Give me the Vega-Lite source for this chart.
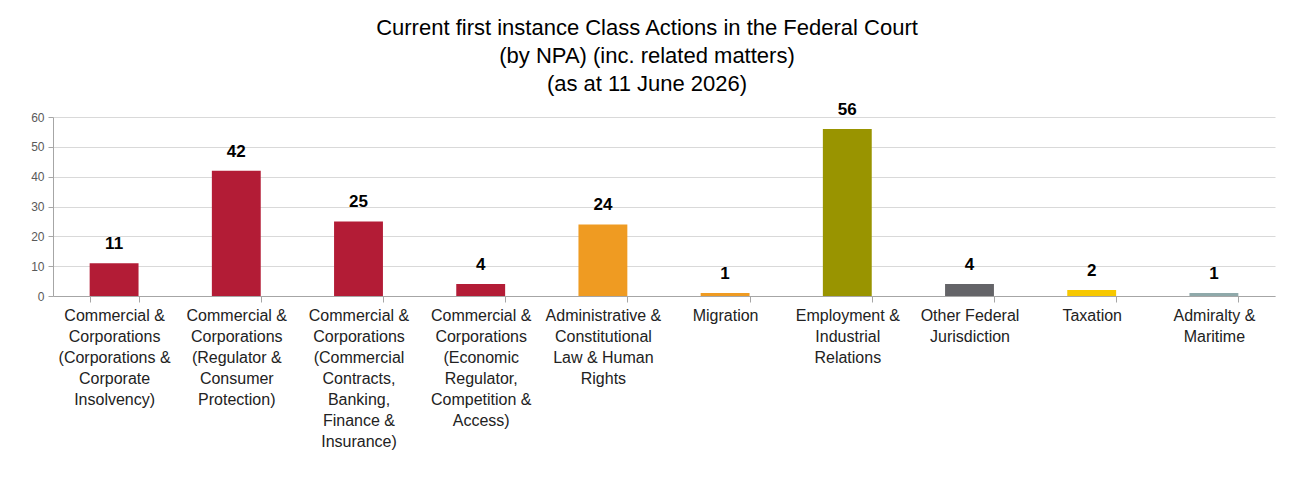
{
  "$schema": "https://vega.github.io/schema/vega-lite/v6.json",
  "width": 1222,
  "height": 179,
  "autosize": {"type": "none"},
  "padding": {"left": 53, "top": 117, "right": 17, "bottom": 183},
  "background": "white",
  "title": {
    "text": ["Current first instance Class Actions in the Federal Court", "(by NPA) (inc. related matters)", "(as at 11 June 2026)"],
    "font": "Liberation Sans",
    "fontSize": 22,
    "fontWeight": "normal",
    "color": "#000000",
    "lineHeight": 28,
    "anchor": "middle",
    "dx": -17,
    "offset": 5
  },
  "data": {
    "values": [
      {"npa": "Commercial &|Corporations|(Corporations &|Corporate|Insolvency)", "count": 11},
      {"npa": "Commercial &|Corporations|(Regulator &|Consumer|Protection)", "count": 42},
      {"npa": "Commercial &|Corporations|(Commercial|Contracts,|Banking,|Finance &|Insurance)", "count": 25},
      {"npa": "Commercial &|Corporations|(Economic|Regulator,|Competition &|Access)", "count": 4},
      {"npa": "Administrative &|Constitutional|Law & Human|Rights", "count": 24},
      {"npa": "Migration", "count": 1},
      {"npa": "Employment &|Industrial|Relations", "count": 56},
      {"npa": "Other Federal|Jurisdiction", "count": 4},
      {"npa": "Taxation", "count": 2},
      {"npa": "Admiralty &|Maritime", "count": 1}
    ]
  },
  "encoding": {
    "x": {
      "field": "npa",
      "type": "nominal",
      "sort": null,
      "scale": {"paddingInner": 0.6, "paddingOuter": 0.3},
      "axis": {
        "title": null,
        "labelAngle": 0,
        "labelExpr": "split(datum.label, '|')",
        "labelFont": "Liberation Sans",
        "labelFontSize": 16,
        "labelLineHeight": 21,
        "labelColor": "#222222",
        "labelPadding": 5,
        "labelBaseline": "top",
        "labelLimit": 0,
        "tickBand": "extent",
        "tickSize": 6,
        "tickColor": "#a6a6a6",
        "domainColor": "#a6a6a6",
        "grid": false
      }
    },
    "y": {
      "field": "count",
      "type": "quantitative",
      "scale": {"domain": [0, 60]},
      "axis": {
        "title": null,
        "values": [0, 10, 20, 30, 40, 50, 60],
        "labelFont": "Liberation Sans",
        "labelFontSize": 12,
        "labelColor": "#595959",
        "labelPadding": 4,
        "tickSize": 5,
        "tickColor": "#a6a6a6",
        "domainColor": "#a6a6a6",
        "gridColor": "#d9d9d9"
      }
    }
  },
  "layer": [
    {
      "mark": {"type": "bar"},
      "encoding": {
        "color": {
          "field": "npa",
          "type": "nominal",
          "legend": null,
          "scale": {
            "domain": [
              "Commercial &|Corporations|(Corporations &|Corporate|Insolvency)",
              "Commercial &|Corporations|(Regulator &|Consumer|Protection)",
              "Commercial &|Corporations|(Commercial|Contracts,|Banking,|Finance &|Insurance)",
              "Commercial &|Corporations|(Economic|Regulator,|Competition &|Access)",
              "Administrative &|Constitutional|Law & Human|Rights",
              "Migration",
              "Employment &|Industrial|Relations",
              "Other Federal|Jurisdiction",
              "Taxation",
              "Admiralty &|Maritime"
            ],
            "range": ["#b31c36", "#b31c36", "#b31c36", "#b31c36", "#ef9b22", "#ef9b22", "#999400", "#646468", "#f7c800", "#8fa9aa"]
          }
        }
      }
    },
    {
      "mark": {"type": "text", "baseline": "bottom", "dy": -10, "font": "Liberation Sans", "fontSize": 17, "fontWeight": "bold", "color": "#000000"},
      "encoding": {"text": {"field": "count", "type": "quantitative"}}
    }
  ],
  "config": {"view": {"stroke": null}}
}
